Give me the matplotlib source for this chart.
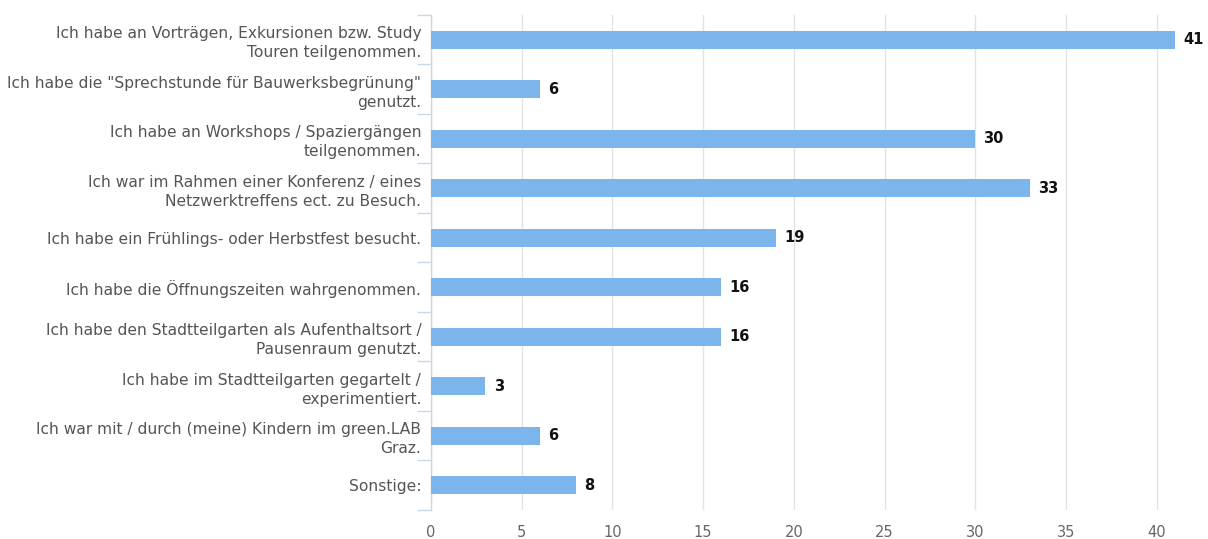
import matplotlib
matplotlib.use("Agg")
import matplotlib.pyplot as plt
import numpy as np

categories = [
    "Ich habe an Vorträgen, Exkursionen bzw. Study\nTouren teilgenommen.",
    "Ich habe die \"Sprechstunde für Bauwerksbegrünung\"\ngenutzt.",
    "Ich habe an Workshops / Spaziergängen\nteilgenommen.",
    "Ich war im Rahmen einer Konferenz / eines\nNetzwerktreffens ect. zu Besuch.",
    "Ich habe ein Frühlings- oder Herbstfest besucht.",
    "Ich habe die Öffnungszeiten wahrgenommen.",
    "Ich habe den Stadtteilgarten als Aufenthaltsort /\nPausenraum genutzt.",
    "Ich habe im Stadtteilgarten gegartelt /\nexperimentiert.",
    "Ich war mit / durch (meine) Kindern im green.LAB\nGraz.",
    "Sonstige:",
]
values = [41, 6, 30, 33, 19, 16, 16, 3, 6, 8]
xticks = [0, 5, 10, 15, 20, 25, 30, 35, 40]

fig = plt.figure(figsize=(12.08, 5.39), dpi=100)
ax = fig.add_axes([431/1208, 29/539, 762/1208, 495/539])

n = len(categories)
y = np.arange(n)
ax.barh(y, values, height=0.36, color="#7cb5ec", zorder=3)
for yi, v in zip(y, values):
    ax.text(v + 0.45, yi, str(v), va="center", ha="left", fontsize=10.5,
            fontweight="bold", color="#111111", family="DejaVu Sans", zorder=4)

ax.set_ylim(n - 0.5, -0.5)
ax.set_xlim(0, 42)
ax.set_xticks(xticks)
ax.set_xticklabels([str(t) for t in xticks], family="DejaVu Sans",
                   fontsize=10.5, color="#666666")
ax.xaxis.grid(True, color="#e3e3e3", linewidth=1, zorder=0)
ax.tick_params(axis="x", length=0, pad=11)

ax.set_yticks(y)
ax.set_yticklabels(categories, fontsize=11.2, color="#555555", family="DejaVu Sans",
                   linespacing=1.35)
ax.tick_params(axis="y", which="major", length=0, pad=7)
ax.set_yticks(np.arange(n + 1) - 0.5, minor=True)
ax.tick_params(axis="y", which="minor", length=10, color="#ccd6eb", width=1)

for s in ["top", "right", "bottom"]:
    ax.spines[s].set_visible(False)
ax.spines["left"].set_color("#ccd6eb")
ax.spines["left"].set_linewidth(1)

fig.savefig("out.png", dpi=100)
